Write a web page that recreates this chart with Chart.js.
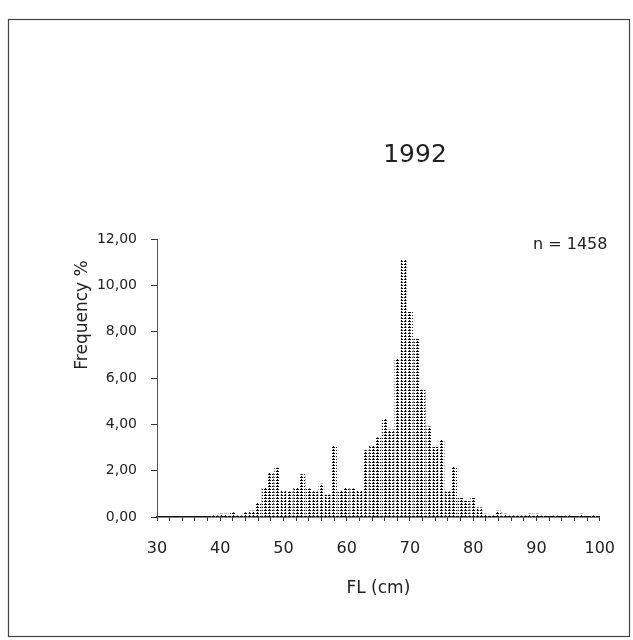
<!DOCTYPE html>
<html>
<head>
<meta charset="utf-8">
<script src="https://cdn.jsdelivr.net/npm/chart.js@4.4.1/dist/chart.umd.min.js"></script>
<style>
    html, body { margin: 0; padding: 0; background: #fff; }
    #wrap { position: relative; width: 633px; height: 640px; }
</style>
</head>
<body>
<div id="wrap"><canvas id="fl-chart" width="633" height="640"></canvas></div>
<script>
// =============================
// FL FREQUENCY 1992
// =============================
const chartTitle = '1992';
const sampleLabel = 'n = 1458';
const yTitle = 'Frequency %';

// fork length classes (cm) and frequency (%)
const flCm = [
    39, 40, 41, 42, 43, 44, 45, 46, 47, 48,
    49, 50, 51, 52, 53, 54, 55, 56, 57, 58,
    59, 60, 61, 62, 63, 64, 65, 66, 67, 68,
    69, 70, 71, 72, 73, 74, 75, 76, 77, 78,
    79, 80, 81, 82, 83, 84, 85, 86, 87, 88,
    89, 90, 91, 92, 93, 94, 95, 96, 97, 98, 99
];
const freqPct = [
    0.07, 0.14, 0.14, 0.21, 0.07, 0.21, 0.27, 0.62, 1.30, 1.92,
    2.13, 1.17, 1.10, 1.30, 1.85, 1.23, 1.10, 1.44, 0.96, 3.09,
    1.17, 1.30, 1.23, 1.17, 2.88, 3.09, 3.43, 4.25, 3.77, 6.86,
    11.11, 8.85, 7.68, 5.49, 3.91, 3.02, 3.36, 1.10, 2.19, 0.82,
    0.69, 0.82, 0.41, 0.14, 0.07, 0.27, 0.14, 0.07, 0.07, 0.07,
    0.14, 0.14, 0.07, 0, 0.07, 0, 0.07, 0, 0.14, 0, 0.07
];

const xTickValues = [30, 40, 50, 60, 70, 80, 90, 100];
const yTickValues = [0, 2, 4, 6, 8, 10, 12];

const textColor = '#222';
const fontFamily = '"DejaVu Sans", sans-serif';

const ctx = document.getElementById('fl-chart').getContext('2d');

// dashed fill like the printed bars
function makeDotPattern(c) {
    const tile = document.createElement('canvas');
    tile.width = 4;
    tile.height = 3;
    const g = tile.getContext('2d');
    g.fillStyle = '#fff';
    g.fillRect(0, 0, 4, 3);
    g.fillStyle = '#000';
    g.fillRect(0, 0, 3, 1);
    g.fillRect(1, 2, 1, 1);
    return c.createPattern(tile, 'repeat');
}

const extraText = {
    id: 'extraText',
    beforeDraw(chart) {
        const c = chart.ctx;
        c.save();
        c.fillStyle = '#fff';
        c.fillRect(0, 0, chart.width, chart.height);
        c.strokeStyle = '#444';
        c.lineWidth = 1.2;
        c.strokeRect(8.5, 19.5, 621, 617);
        c.restore();
    },
    afterDraw(chart) {
        const c = chart.ctx;
        c.save();
        c.fillStyle = textColor;
        c.textBaseline = 'middle';
        c.font = '25px ' + fontFamily;
        c.textAlign = 'center';
        c.fillText(chartTitle, 415, 155);
        c.font = '16px ' + fontFamily;
        c.textAlign = 'left';
        c.fillText(sampleLabel, 533, 245);
        // y title, rotated
        c.translate(83, 315);
        c.rotate(-Math.PI / 2);
        c.textAlign = 'center';
        c.font = '17px ' + fontFamily;
        c.fillText(yTitle, 0, 0);
        c.restore();
    }
};

const flChart = new Chart(ctx, {
    type: 'bar',
    data: {
        datasets: [{
            label: yTitle,
            data: flCm.map((x, i) => ({ x: x, y: freqPct[i] })),
            backgroundColor: makeDotPattern(ctx),
            borderWidth: 0,
            barPercentage: 0.88,
            categoryPercentage: 1
        }]
    },
    options: {
        responsive: false,
        animation: false,
        layout: { padding: { top: 239, right: 33, bottom: 0, left: 0 } },
        scales: {
            x: {
                type: 'linear',
                min: 30,
                max: 100,
                offset: false,
                afterFit: (scale) => { scale.height = 123; },
                afterBuildTicks: (scale) => {
                    const t = [];
                    for (let v = 30; v <= 100; v += 2) t.push({ value: v });
                    scale.ticks = t;
                },
                ticks: {
                    autoSkip: false,
                    maxRotation: 0,
                    color: textColor,
                    font: { family: fontFamily, size: 16 },
                    padding: 18,
                    callback: (v) => xTickValues.includes(v) ? String(v) : ''
                },
                grid: { display: true, drawOnChartArea: false, offset: false, tickLength: 4, color: '#333' },
                border: { display: true, color: '#111', width: 1.5 },
                title: {
                    display: true,
                    text: 'FL (cm)',
                    color: textColor,
                    font: { family: fontFamily, size: 17 },
                    padding: { top: 0, bottom: 41 }
                }
            },
            y: {
                min: 0,
                max: 12,
                afterFit: (scale) => { scale.width = 157; },
                afterBuildTicks: (scale) => {
                    scale.ticks = yTickValues.map(v => ({ value: v }));
                },
                ticks: {
                    color: textColor,
                    font: { family: fontFamily, size: 14 },
                    padding: 14,
                    callback: (v) => v.toFixed(2).replace('.', ',')
                },
                grid: { display: true, drawOnChartArea: false, tickLength: 6, color: '#333' },
                border: { display: true, color: '#555', width: 1, dash: [8, 3] }
            }
        },
        plugins: {
            legend: { display: false },
            tooltip: { enabled: false }
        }
    },
    plugins: [extraText]
});
</script>
</body>
</html>
